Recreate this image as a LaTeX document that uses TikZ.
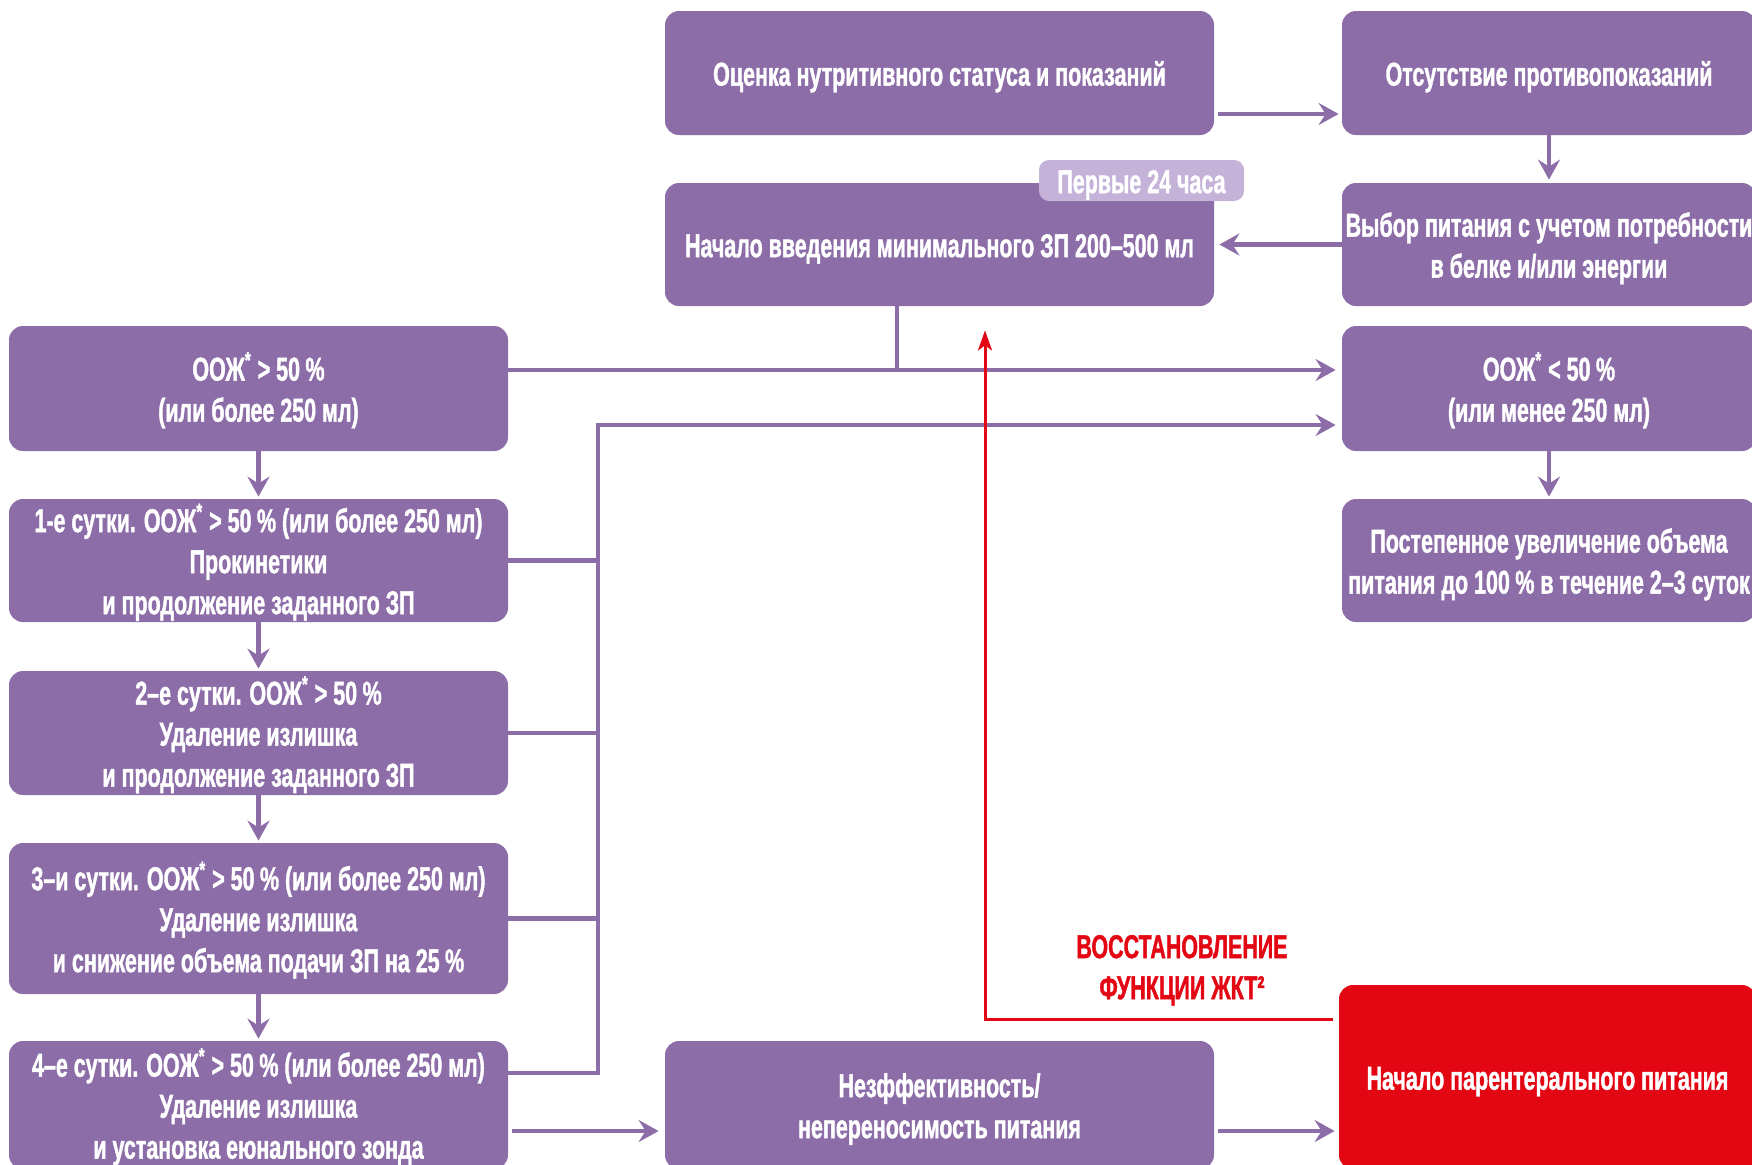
\documentclass[tikz,border=0pt]{standalone}
\usepackage{fontspec}
\setmainfont{Liberation Sans}
\newfontfamily\cond{Liberation Sans}[FakeStretch=0.65, BoldFeatures={FakeBold=1.2}]
\usetikzlibrary{arrows.meta,calc}
\definecolor{vio}{RGB}{140,109,168}
\definecolor{viol}{RGB}{196,178,216}
\definecolor{rd}{RGB}{227,6,19}
\newcommand\lines[1]{\raisebox{-2.2pt}[\height][\depth]{\begin{tabular}{@{}c@{}}#1\end{tabular}}}
\tikzset{
  txt/.style={font=\cond\bfseries\fontsize{16.5}{20.5}\selectfont},
  box/.style={txt, fill=vio, rounded corners=7pt, text=white, inner sep=0pt},
  wide/.style={minimum width=274.5pt},
  lft/.style={minimum width=249.5pt},
  rgt/.style={minimum width=207pt},
  tagbox/.style={txt, fill=viol, rounded corners=5pt, text=white, inner sep=0pt, minimum width=102.5pt, minimum height=20.5pt},
  conn/.style={draw=vio, line width=2.2pt},
  arr/.style={conn, -{Stealth[length=10pt,width=11pt,inset=3.5pt]}},
  redarr/.style={draw=rd, line width=1.5pt, -{Stealth[length=10pt,width=7pt,inset=2.5pt]}},
  redlbl/.style={txt, text=rd, inner sep=0pt}
}
\begin{document}
\begin{tikzpicture}[x=0.5pt,y=-0.5pt]
\useasboundingbox (0,0) rectangle (1752,1164);
\clip (0,0) rectangle (1752,1164);
% top row
\node[box, wide, minimum height=62pt] (ocenka) at (939.5,73) {\lines{Оценка нутритивного статуса и показаний}};
\node[box, rgt, minimum height=62pt] (otsut) at (1549,73) {\lines{Отсутствие противопоказаний}};
\node[box, wide, minimum height=61.5pt] (nachalo) at (939.5,244.5) {\lines{Начало введения минимального ЗП 200–500 мл}};
\node[tagbox] (tag) at (1141.5,180.5) {\lines{Первые 24 часа}};
\node[box, rgt, minimum height=61.5pt] (vybor) at (1549,244.5) {\lines{Выбор питания с учетом потребности\\в белке и/или энергии}};
% left column
\node[box, lft, minimum height=62.5pt] (ooj) at (258.5,388.5) {\lines{ООЖ\textsuperscript{*} > 50\,\%\\(или более 250 мл)}};
\node[box, lft, minimum height=61.5pt] (day1) at (258.5,560.5) {\lines{1-е сутки. ООЖ\textsuperscript{*} > 50\,\% (или более 250 мл)\\Прокинетики\\и продолжение заданного ЗП}};
\node[box, lft, minimum height=62pt] (day2) at (258.5,733) {\lines{2–е сутки. ООЖ\textsuperscript{*} > 50\,\%\\Удаление излишка\\и продолжение заданного ЗП}};
\node[box, lft, minimum height=75.5pt] (day3) at (258.5,918.5) {\lines{3–и сутки. ООЖ\textsuperscript{*} > 50\,\% (или более 250 мл)\\Удаление излишка\\и снижение объема подачи ЗП на 25\,\%}};
\node[box, lft, minimum height=64pt] (day4) at (258.5,1105) {\lines{4–е сутки. ООЖ\textsuperscript{*} > 50\,\% (или более 250 мл)\\Удаление излишка\\и установка еюнального зонда}};
% right column
\node[box, rgt, minimum height=62.5pt] (oojless) at (1549,388.5) {\lines{ООЖ\textsuperscript{*} < 50\,\%\\(или менее 250 мл)}};
\node[box, rgt, minimum height=61.5pt] (postep) at (1549,560.5) {\lines{Постепенное увеличение объема\\питания до 100\,\% в течение 2–3 суток}};
% bottom
\node[box, wide, minimum height=64pt] (neeff) at (939.5,1105) {\lines{Незффективность/\\непереносимость питания}};
\node[box, fill=rd, minimum width=208.5pt, minimum height=92pt] (parent) at (1547.5,1077) {\lines{Начало парентерального питания}};
\node[redlbl] (lbl) at (1182,966) {\lines{ВОССТАНОВЛЕНИЕ\\ФУНКЦИИ ЖКТ²}};
% connectors
\draw[arr] ($(ocenka.east)+(4,41)$) -- ($(otsut.west)+(-3,41)$);
\draw[arr] (otsut.south) -- ($(vybor.north)+(0,-3)$);
\draw[arr] (vybor.west) -- ($(nachalo.east)+(5,0)$);
\coordinate (a1) at ($(ooj.east)+(0,-18.5)$);
\path ($(nachalo.south)+(-42.5,0)$) coordinate (n1);
\draw[conn] (n1) -- (n1 |- a1);
\draw[arr] (a1) -- ($(oojless.west)+(-6,-18.5)$);
\coordinate (bt) at (598,425);
\draw[arr] ($(day4.east)+(0,-32)$) -| (bt) -- ($(oojless.west)+(-6,36.5)$);
\draw[conn] (day1.east) -- (day1.east -| bt);
\draw[conn] (day2.east) -- (day2.east -| bt);
\draw[conn] (day3.east) -- (day3.east -| bt);
\draw[arr] (ooj.south) -- ($(day1.north)+(0,-2)$);
\draw[arr] (day1.south) -- ($(day2.north)+(0,-2)$);
\draw[arr] (day2.south) -- ($(day3.north)+(0,-2)$);
\draw[arr] (day3.south) -- ($(day4.north)+(0,-2)$);
\draw[arr] (oojless.south) -- ($(postep.north)+(0,-2)$);
\draw[arr] ($(day4.east)+(4,26)$) -- ($(neeff.west)+(-6,26)$);
\draw[arr] ($(neeff.east)+(4,26)$) -- ($(parent.west)+(-4,54)$);
\draw[redarr] ($(parent.west)+(-6,-58)$) -| ($(nachalo.south)+(45.5,24)$);
\end{tikzpicture}
\end{document}
